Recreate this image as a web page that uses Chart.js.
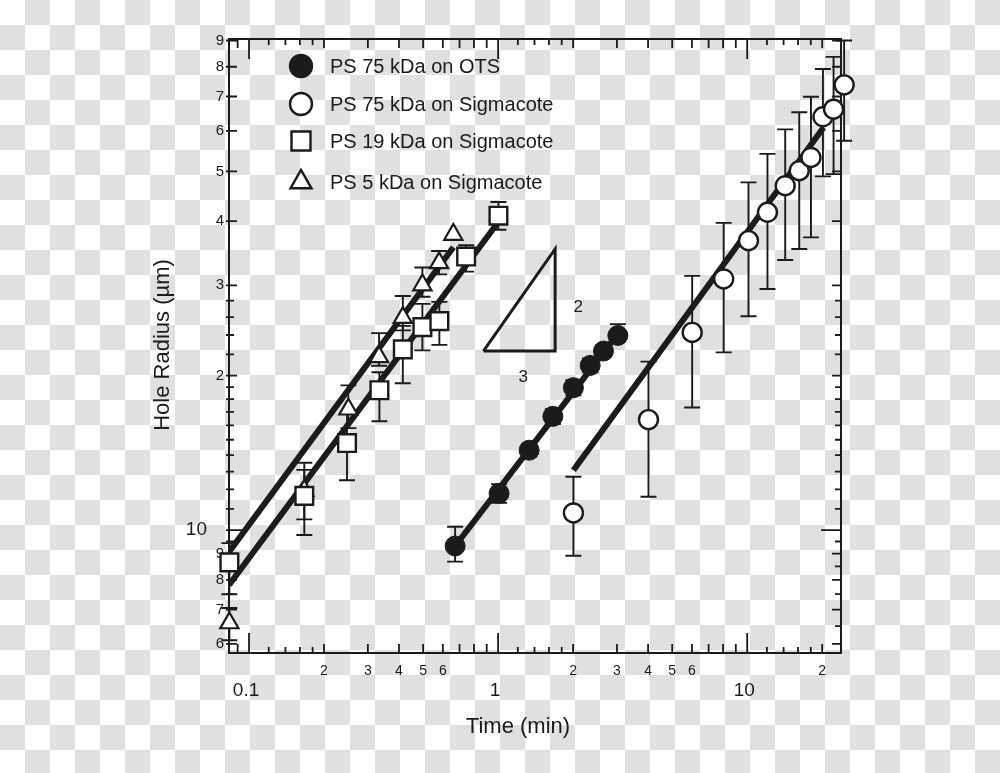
<!DOCTYPE html>
<html>
<head>
<meta charset="utf-8">
<title>Hole radius vs time</title>
<script src="https://cdn.jsdelivr.net/npm/chart.js@4/dist/chart.umd.min.js"></script>
<style>
  html, body {
    margin: 0;
    padding: 0;
  }
  body {
    width: 1000px;
    height: 773px;
    background-color: #ffffff;
    background-image: conic-gradient(#e0e0e0 25%, transparent 0 50%, #e0e0e0 0 75%, transparent 0);
    background-size: 50px 50px;
  }
  #wrap {
    position: relative;
    width: 1000px;
    height: 773px;
  }
</style>
</head>
<body>
<div id="wrap"><canvas id="holeChart" width="1000" height="773"></canvas></div>
<script>
// PS 75 kDa on OTS (filled circles)
const otsTime = [0.672, 1.009, 1.332, 1.659, 2.006, 2.342, 2.648, 3.025];
const otsRadius = [9.31, 11.79, 14.31, 16.66, 18.95, 20.94, 22.33, 23.95];
const otsLow = [8.68, 11.3, 13.9, 16.1, 18.3, 20.3, 21.8, 23.3];
const otsHigh = [10.15, 12.29, 14.7, 17.2, 19.6, 21.6, 22.9, 25.2];

// PS 75 kDa on Sigmacote (open circles)
const sig75Time = [2.006, 4.015, 6.013, 8.045, 10.12, 12.06, 14.21, 16.18, 18.03, 20.14, 22.22, 24.5];
const sig75Radius = [10.8, 16.42, 24.28, 30.86, 36.66, 41.63, 46.9, 50.16, 53.24, 63.9, 66.1, 73.75];
const sig75Low = [8.91, 11.61, 17.33, 22.2, 26.1, 29.5, 33.6, 35.3, 37.2, 48.9, 49.4, 57.4];
const sig75High = [12.7, 21.3, 31.3, 39.7, 47.6, 54.1, 60.4, 65.2, 69.9, 79.2, 83.6, 90];

// PS 19 kDa on Sigmacote (open squares)
const sig19Time = [0.0834, 0.1667, 0.2474, 0.3338, 0.4144, 0.4966, 0.581, 0.744, 1.003];
const sig19Radius = [8.65, 11.66, 14.78, 18.73, 22.5, 24.86, 25.54, 34.13, 41.0];
const sig19Low = [7.5, 9.78, 12.51, 16.3, 19.33, 22.4, 22.96, 31.9, 38.5];
const sig19High = [9.43, 13.1, 16.9, 20.3, 25.0, 27.6, 27.85, 35.9, 43.6];

// PS 5 kDa on Sigmacote (open triangles)
const sig5Time = [0.0834, 0.1667, 0.2505, 0.3327, 0.4144, 0.4966, 0.5795, 0.661];
const sig5Radius = [6.59, 11.93, 17.2, 21.75, 25.94, 30.03, 33.17, 37.67];
const sig5Low = [6.1, 10.49, 15.8, 20.9, 24.5, 28.5, 31.5, null];
const sig5High = [7.05, 13.53, 19.14, 24.2, 28.6, 32.5, 35.0, null];

// power-law fits (end points)
const fit5Time = [0.0831, 0.661];
const fit5Radius = [9.06, 35.57];
const fit19Time = [0.0831, 0.988];
const fit19Radius = [7.815, 39.5];
const fitOtsTime = [0.672, 2.953];
const fitOtsRadius = [9.31, 23.77];
const fit75Time = [2.006, 20.25];
const fit75Radius = [13.08, 60.9];

// slope 2/3 guide triangle
const guideTime = [0.873, 1.694, 1.694, 0.873];
const guideRadius = [22.33, 22.33, 35.32, 22.33];
const guideLabels = ['2', '3'];
const guideLabelTime = [2.096, 1.26];
const guideLabelRadius = [27.16, 19.85];

// axis ticks
const xMajorTicks = [0.1, 1, 10];
const xMajorLabels = ['0.1', '1', '10'];
const xMidTicks = [0.09, 0.2, 0.3, 0.4, 0.5, 0.6, 0.7, 0.8, 0.9, 2, 3, 4, 5, 6, 7, 8, 9, 20];
const xMinorTicks = [0.12, 0.14, 0.16, 0.18, 1.2, 1.4, 1.6, 1.8, 12, 14, 16, 18];
const xLabelTicks = [0.2, 0.3, 0.4, 0.5, 0.6, 2, 3, 4, 5, 6, 20];
const xTickLabels = ['2', '3', '4', '5', '6', '2', '3', '4', '5', '6', '2'];

const yMajorTicks = [10];
const yMajorLabels = ['10'];
const yMidTicks = [6, 7, 8, 9, 20, 30, 40, 50, 60, 70, 80, 90];
const yMinorTicks = [6.5, 7.5, 8.5, 9.5, 11, 12, 13, 14, 15, 16, 17, 18, 19, 22, 24, 26, 28];
const yTickLabels = ['6', '7', '8', '9', '2', '3', '4', '5', '6', '7', '8', '9'];

const INK = '#1b1b1b';
const FONT = '"Liberation Sans", Arial, Helvetica, sans-serif';

function toPoints(xs, ys) {
    return xs.map(function(x, i) { return { x: x, y: ys[i] }; });
}

// Axis box, inward ticks and tick labels
function drawAxes(chart) {
    const ctx = chart.ctx;
    const area = chart.chartArea;
    const xs = chart.scales.x;
    const ys = chart.scales.y;

    ctx.save();
    ctx.strokeStyle = INK;
    ctx.lineWidth = 2;
    ctx.strokeRect(area.left, area.top, area.right - area.left, area.bottom - area.top);

    ctx.lineWidth = 1.8;
    ctx.beginPath();
    function xTick(v, len) {
        const px = xs.getPixelForValue(v);
        ctx.moveTo(px, area.bottom);
        ctx.lineTo(px, area.bottom - len);
        ctx.moveTo(px, area.top);
        ctx.lineTo(px, area.top + len);
    }
    function yTick(v, lenL, lenR) {
        const py = ys.getPixelForValue(v);
        ctx.moveTo(area.left - 3, py);
        ctx.lineTo(area.left + lenL, py);
        ctx.moveTo(area.right, py);
        ctx.lineTo(area.right - lenR, py);
    }
    xMajorTicks.forEach(function(v) { xTick(v, 20); });
    xMidTicks.forEach(function(v) { xTick(v, 9); });
    xMinorTicks.forEach(function(v) { xTick(v, 6); });
    yMajorTicks.forEach(function(v) { yTick(v, 13, 20); });
    yMidTicks.forEach(function(v) { yTick(v, 8, 9); });
    yMinorTicks.forEach(function(v) { yTick(v, 5, 6); });
    ctx.stroke();

    ctx.fillStyle = INK;
    ctx.textBaseline = 'middle';

    // x labels
    ctx.textAlign = 'center';
    ctx.font = '14px ' + FONT;
    xLabelTicks.forEach(function(v, i) {
        ctx.fillText(xTickLabels[i], xs.getPixelForValue(v), area.bottom + 18);
    });
    ctx.font = '19px ' + FONT;
    xMajorTicks.forEach(function(v, i) {
        ctx.fillText(xMajorLabels[i], xs.getPixelForValue(v) - 3, area.bottom + 38);
    });

    // y labels
    ctx.textAlign = 'right';
    ctx.font = '15px ' + FONT;
    yMidTicks.forEach(function(v, i) {
        ctx.fillText(yTickLabels[i], area.left - 5, ys.getPixelForValue(v));
    });
    ctx.font = '19px ' + FONT;
    yMajorTicks.forEach(function(v, i) {
        ctx.fillText(yMajorLabels[i], area.left - 22, ys.getPixelForValue(v));
    });

    // axis titles
    ctx.textAlign = 'center';
    ctx.font = '22px ' + FONT;
    ctx.fillText('Time (min)', 518, area.bottom + 74);
    ctx.translate(163, 345);
    ctx.rotate(-Math.PI / 2);
    ctx.fillText('Hole Radius (\u00b5m)', 0, 0);
    ctx.restore();
}

// Vertical error bars with caps, drawn under the markers
function drawErrorBars(chart) {
    const ctx = chart.ctx;
    const xs = chart.scales.x;
    const ys = chart.scales.y;
    ctx.save();
    ctx.strokeStyle = INK;
    ctx.lineWidth = 1.9;
    chart.data.datasets.forEach(function(ds) {
        if (!ds.errLow) return;
        ds.data.forEach(function(p, i) {
            const lo = ds.errLow[i];
            const hi = ds.errHigh[i];
            if (lo == null || hi == null) return;
            const px = xs.getPixelForValue(p.x);
            const pLo = ys.getPixelForValue(lo);
            const pHi = ys.getPixelForValue(hi);
            ctx.beginPath();
            ctx.moveTo(px, pLo);
            ctx.lineTo(px, pHi);
            ctx.moveTo(px - 8, pLo);
            ctx.lineTo(px + 8, pLo);
            ctx.moveTo(px - 8, pHi);
            ctx.lineTo(px + 8, pHi);
            ctx.stroke();
        });
    });
    ctx.restore();
}

function drawMarker(ctx, style, x, y, size) {
    ctx.beginPath();
    if (style === 'rect') {
        ctx.rect(x - size, y - size, size * 2, size * 2);
    } else if (style === 'triangle') {
        ctx.moveTo(x, y - size * 1.15);
        ctx.lineTo(x + size, y + size * 0.6);
        ctx.lineTo(x - size, y + size * 0.6);
        ctx.closePath();
    } else {
        ctx.arc(x, y, size, 0, Math.PI * 2);
    }
    ctx.fill();
    ctx.stroke();
}

// Legend in the top left corner of the plot
function drawLegend(chart) {
    const ctx = chart.ctx;
    const rows = [66, 104, 141, 182];
    ctx.save();
    ctx.font = '20px ' + FONT;
    ctx.textAlign = 'left';
    ctx.textBaseline = 'alphabetic';
    let r = 0;
    chart.data.datasets.forEach(function(ds) {
        if (!ds.inLegend) return;
        const y = rows[r++];
        ctx.fillStyle = ds.backgroundColor;
        ctx.strokeStyle = INK;
        ctx.lineWidth = 2.4;
        const size = ds.pointStyle === 'rect' ? 9.5 : (ds.pointStyle === 'triangle' ? 10.5 : 11);
        drawMarker(ctx, ds.pointStyle, 301, y, size);
        ctx.fillStyle = INK;
        ctx.fillText(ds.label, 330, y + 7);
    });
    ctx.restore();
}

function drawGuideLabels(chart) {
    const ctx = chart.ctx;
    ctx.save();
    ctx.fillStyle = INK;
    ctx.font = '17px ' + FONT;
    ctx.textAlign = 'center';
    ctx.textBaseline = 'middle';
    guideLabels.forEach(function(t, i) {
        ctx.fillText(t, chart.scales.x.getPixelForValue(guideLabelTime[i]),
            chart.scales.y.getPixelForValue(guideLabelRadius[i]));
    });
    ctx.restore();
}

const figurePlugin = {
    id: 'figureExtras',
    beforeDatasetsDraw: function(chart) {
        drawAxes(chart);
        drawErrorBars(chart);
    },
    afterDatasetsDraw: function(chart) {
        drawLegend(chart);
        drawGuideLabels(chart);
    }
};

function fitLine(xs, ys) {
    return {
        label: 'fit',
        data: toPoints(xs, ys),
        showLine: true,
        borderColor: INK,
        borderWidth: 6,
        pointRadius: 0,
        order: 2
    };
}

document.addEventListener('DOMContentLoaded', function() {
    const canvas = document.getElementById('holeChart');

    new Chart(canvas, {
        type: 'scatter',
        data: {
            datasets: [
                {
                    label: 'PS 75 kDa on OTS',
                    data: toPoints(otsTime, otsRadius),
                    errLow: otsLow, errHigh: otsHigh, inLegend: true,
                    pointStyle: 'circle', pointRadius: 10,
                    backgroundColor: INK, borderColor: INK, borderWidth: 1,
                    clip: false, order: 0
                },
                {
                    label: 'PS 75 kDa on Sigmacote',
                    data: toPoints(sig75Time, sig75Radius),
                    errLow: sig75Low, errHigh: sig75High, inLegend: true,
                    pointStyle: 'circle', pointRadius: 9.5,
                    backgroundColor: '#ffffff', borderColor: INK, borderWidth: 2.4,
                    clip: false, order: 0
                },
                {
                    label: 'PS 19 kDa on Sigmacote',
                    data: toPoints(sig19Time, sig19Radius),
                    errLow: sig19Low, errHigh: sig19High, inLegend: true,
                    pointStyle: 'rect', pointRadius: 12.5,
                    backgroundColor: '#ffffff', borderColor: INK, borderWidth: 2.4,
                    clip: false, order: 0
                },
                {
                    label: 'PS 5 kDa on Sigmacote',
                    data: toPoints(sig5Time, sig5Radius),
                    errLow: sig5Low, errHigh: sig5High, inLegend: true,
                    pointStyle: 'triangle', pointRadius: 10.5,
                    backgroundColor: '#ffffff', borderColor: INK, borderWidth: 2.2,
                    clip: false, order: 0
                },
                fitLine(fit5Time, fit5Radius),
                fitLine(fit19Time, fit19Radius),
                fitLine(fitOtsTime, fitOtsRadius),
                fitLine(fit75Time, fit75Radius),
                {
                    label: 'slope',
                    data: toPoints(guideTime, guideRadius),
                    showLine: true,
                    borderColor: INK,
                    borderWidth: 3,
                    pointRadius: 0,
                    order: 3
                }
            ]
        },
        options: {
            responsive: false,
            animation: false,
            events: [],
            layout: {
                padding: { left: 229, right: 159, top: 39, bottom: 120 }
            },
            scales: {
                x: { type: 'logarithmic', min: 0.0831, max: 23.8, display: false },
                y: { type: 'logarithmic', min: 5.76, max: 90.6, display: false }
            },
            plugins: {
                legend: { display: false },
                tooltip: { enabled: false }
            }
        },
        plugins: [figurePlugin]
    });
});
</script>
</body>
</html>
